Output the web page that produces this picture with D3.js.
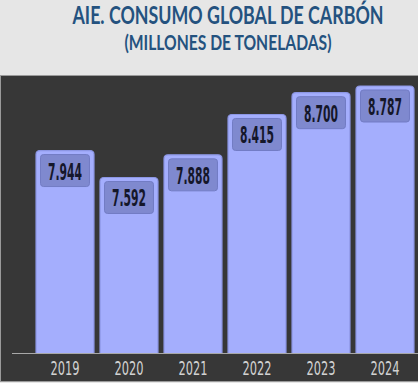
<!DOCTYPE html>
<html>
<head>
<meta charset="utf-8">
<script src="https://cdn.jsdelivr.net/npm/d3@7"></script>
<style>
  body { margin: 0; background: #e6e6e6; }
  svg { display: block; }
</style>
</head>
<body>
<div id="chart"></div>
<script>
// chart data
var years = ["2019", "2020", "2021", "2022", "2023", "2024"];
var values = [7944, 7592, 7888, 8415, 8700, 8787];
var labels = ["7.944", "7.592", "7.888", "8.415", "8.700", "8.787"];
var title = "AIE. CONSUMO GLOBAL DE CARBÓN";
var subtitle = "(MILLONES DE TONELADAS)";

var width = 418, height = 383,
    baseY = 353;

var svg = d3.select("#chart").append("svg")
    .attr("width", width)
    .attr("height", height);

// light top band
svg.append("rect")
    .attr("x", 0).attr("y", 0)
    .attr("width", width).attr("height", height)
    .style("fill", "#e6e6e6");

// titles
svg.append("text")
    .attr("x", 228).attr("y", 24)
    .attr("text-anchor", "middle")
    .attr("textLength", 311)
    .attr("lengthAdjust", "spacingAndGlyphs")
    .style("font-family", "Lato, 'Open Sans', sans-serif")
    .style("font-weight", "bold")
    .style("font-size", "24px")
    .style("fill", "#24527f")
    .text(title);

svg.append("text")
    .attr("x", 228).attr("y", 50)
    .attr("text-anchor", "middle")
    .attr("textLength", 207)
    .attr("lengthAdjust", "spacingAndGlyphs")
    .style("font-family", "Lato, 'Open Sans', sans-serif")
    .style("font-weight", "bold")
    .style("font-size", "21px")
    .style("fill", "#24527f")
    .text(subtitle);

// dark panel
svg.append("rect")
    .attr("x", 0.5).attr("y", 75.5)
    .attr("width", width).attr("height", 306)
    .style("fill", "#373737")
    .style("stroke", "#9a9a9a")
    .style("stroke-width", 1);

var x = d3.scaleBand()
    .domain(years)
    .range([33, 417])
    .paddingInner(0.094)
    .paddingOuter(0.047);

var y = d3.scaleLinear()
    .domain([5300, 8800])
    .range([baseY, 85]);

// axis line
svg.append("line")
    .attr("x1", 12).attr("x2", width)
    .attr("y1", baseY + 0.5).attr("y2", baseY + 0.5)
    .style("stroke", "#a8a8a8")
    .style("stroke-width", 1);

function topRounded(x0, y0, w, h, r) {
    return "M" + x0 + "," + (y0 + h) +
        "V" + (y0 + r) +
        "Q" + x0 + "," + y0 + " " + (x0 + r) + "," + y0 +
        "H" + (x0 + w - r) +
        "Q" + (x0 + w) + "," + y0 + " " + (x0 + w) + "," + (y0 + r) +
        "V" + (y0 + h);
}

var data = years.map(function(d, i) {
    return { year: d, value: values[i], label: labels[i] };
});

var bars = svg.selectAll(".bar")
    .data(data)
    .enter().append("g")
    .attr("class", "bar");

bars.append("path")
    .attr("d", function(d) {
        var top = y(d.value);
        return topRounded(x(d.year), top, x.bandwidth(), baseY - top, 4);
    })
    .style("fill", "#a4aefd")
    .style("stroke", "#8c96e4")
    .style("stroke-width", 1.2);

// value boxes
bars.append("rect")
    .attr("x", function(d) { return x(d.year) + 4.5; })
    .attr("y", function(d) { return y(d.value) + 4; })
    .attr("width", x.bandwidth() - 9)
    .attr("height", 32)
    .attr("rx", 3)
    .style("fill", "#7f89cf")
    .style("stroke", "#727cc4")
    .style("stroke-width", 1);

bars.append("text")
    .attr("x", function(d) { return x(d.year) + x.bandwidth() / 2; })
    .attr("y", function(d) { return y(d.value) + 29; })
    .attr("text-anchor", "middle")
    .attr("textLength", 34)
    .attr("lengthAdjust", "spacingAndGlyphs")
    .style("font-family", "'DejaVu Sans Condensed', 'Liberation Sans Narrow', sans-serif")
    .style("font-weight", "bold")
    .style("font-size", "23px")
    .style("fill", "#15172a")
    .text(function(d) { return d.label; });

// year labels
svg.selectAll(".year")
    .data(years)
    .enter().append("text")
    .attr("class", "year")
    .attr("x", function(d) { return x(d) + x.bandwidth() / 2; })
    .attr("y", 375)
    .attr("text-anchor", "middle")
    .attr("textLength", 29)
    .attr("lengthAdjust", "spacingAndGlyphs")
    .style("font-family", "'DejaVu Sans Condensed', 'Liberation Sans Narrow', sans-serif")
    .style("font-size", "20px")
    .style("fill", "#d2d2d2")
    .text(function(d) { return d; });
</script>
</body>
</html>
